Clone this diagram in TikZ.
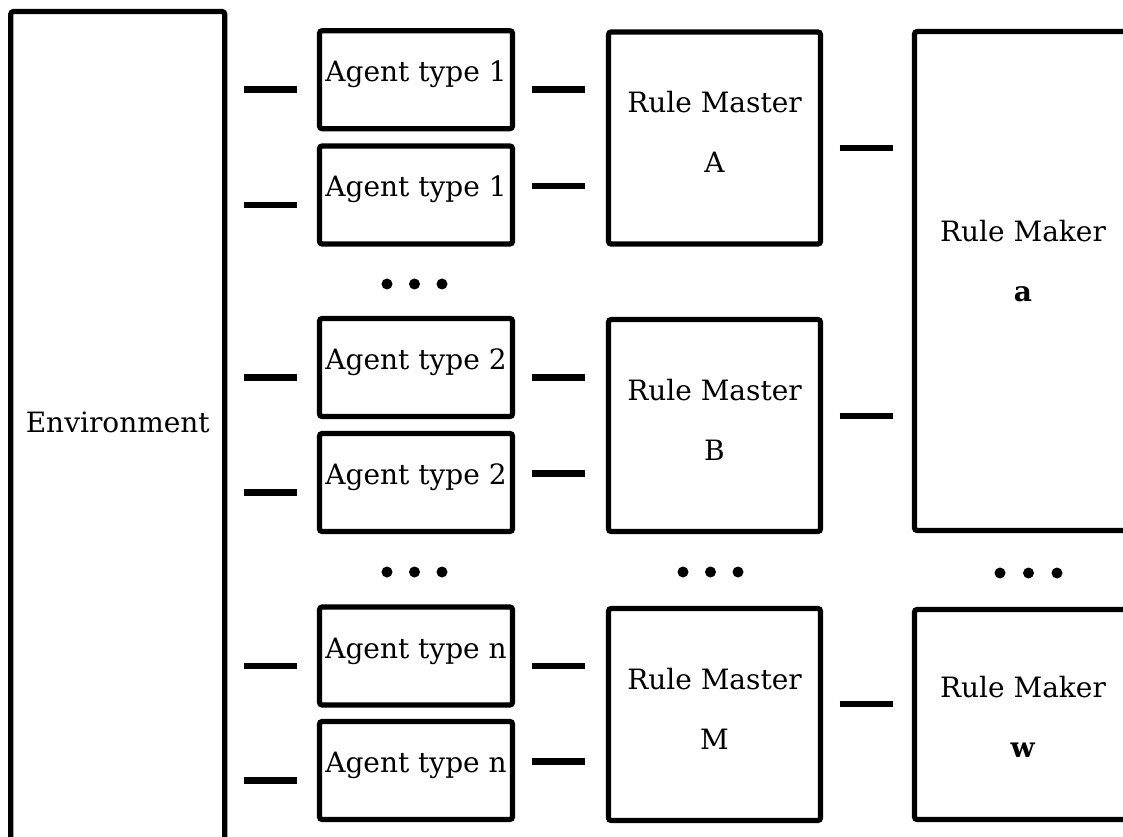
\documentclass[tikz,border=0pt]{standalone}
\usepackage{fontspec}
\setmainfont{DejaVu Serif}
\usetikzlibrary{calc}
\newcommand{\twoline}[2]{\vtop{\halign{\hfil##\hfil\cr#1\cr#2\cr}}}
\newcommand{\diafont}{\fontsize{21pt}{45pt}\selectfont}
\begin{document}
\begin{tikzpicture}[x=0.75pt,y=-0.75pt,
  boxy/.style={draw, line width=3.9pt, rounded corners=2pt, inner sep=0pt, font=\diafont, text height=15pt},
  envbox/.style={boxy, minimum width=213.9*0.75pt, minimum height=828.5*0.75pt, text height=16.5pt, text depth=7.125pt},
  agentbox/.style={boxy, minimum width=193*0.75pt, minimum height=98*0.75pt, text height=16.5pt, text depth=13.5pt},
  masterbox/.style={boxy, minimum width=212*0.75pt, minimum height=212*0.75pt, text depth=52.5pt},
  makerbox/.style={boxy, minimum width=217*0.75pt},
  conn/.style={line width=5pt},
  dot/.style={circle, fill, inner sep=0pt, minimum size=11*0.75pt}
]
\useasboundingbox (0,0) rectangle (1123,837);
\clip (0,0) rectangle (1123,837);

% environment
\node[envbox] (env) at (117.75,425.75) {Environment};

% agents
\node[agentbox] (a1) at (416,79.7) {Agent type 1};
\node[agentbox] (a2) at (416,195) {Agent type 1};
\node[agentbox] (b1) at (416,367.5) {Agent type 2};
\node[agentbox] (b2) at (416,482.5) {Agent type 2};
\node[agentbox] (n1) at (416,656) {Agent type n};
\node[agentbox] (n2) at (416,770.5) {Agent type n};

% rule masters
\node[masterbox] (mA) at (714.5,138) {\twoline{Rule Master}{A}};
\node[masterbox] (mB) at (714.5,425.5) {\twoline{Rule Master}{B}};
\node[masterbox] (mM) at (714.5,714.5) {\twoline{Rule Master}{M}};

% rule makers
\node[makerbox, minimum height=499*0.75pt, text depth=73.5pt] (ra) at (1023,281) {\twoline{Rule Maker}{\textbf{a}}};
\node[makerbox, minimum height=210*0.75pt, text depth=41.25pt] (rw) at (1023,714.5) {\twoline{Rule Maker}{\textbf{w}}};

% environment -> agents
\foreach \a in {a1,a2,b1,b2,n1,n2}{
  \draw[conn] ($(env.east |- \a.west)+(17,10)$) -- ($(\a.west)+(-20,10)$);
}
% agents -> masters
\draw[conn] ($(a1.east)+(16.5,10)$) -- ($(mA.west |- a1.east)+(-20.5,10)$);
\draw[conn] ($(a2.east)+(16.5,-9)$) -- ($(mA.west |- a2.east)+(-20.5,-9)$);
\draw[conn] ($(b1.east)+(16.5,10)$) -- ($(mB.west |- b1.east)+(-20.5,10)$);
\draw[conn] ($(b2.east)+(16.5,-9)$) -- ($(mB.west |- b2.east)+(-20.5,-9)$);
\draw[conn] ($(n1.east)+(16.5,10)$) -- ($(mM.west |- n1.east)+(-20.5,10)$);
\draw[conn] ($(n2.east)+(16.5,-9)$) -- ($(mM.west |- n2.east)+(-20.5,-9)$);
% masters -> makers
\draw[conn] ($(mA.east)+(16.5,10)$) -- ($(ra.west |- mA.east)+(-18.5,10)$);
\draw[conn] ($(mB.east)+(16.5,-9.5)$) -- ($(ra.west |- mB.east)+(-18.5,-9.5)$);
\draw[conn] ($(mM.east)+(16.5,-10.5)$) -- ($(rw.west |- mM.east)+(-18.5,-10.5)$);

% ellipsis dots
\node[dot] (d11) at (387,284) {};
\node[dot] (d12) at (414.5,284) {};
\node[dot] (d13) at (442,284) {};
\node[dot] (d21) at (387,572) {};
\node[dot] (d22) at (414.5,572) {};
\node[dot] (d23) at (442,572) {};
\node[dot] (d31) at (683,572) {};
\node[dot] (d32) at (710.5,572) {};
\node[dot] (d33) at (738,572) {};
\node[dot] (d41) at (1000,573) {};
\node[dot] (d42) at (1028.5,573) {};
\node[dot] (d43) at (1057,573) {};
\end{tikzpicture}
\end{document}
